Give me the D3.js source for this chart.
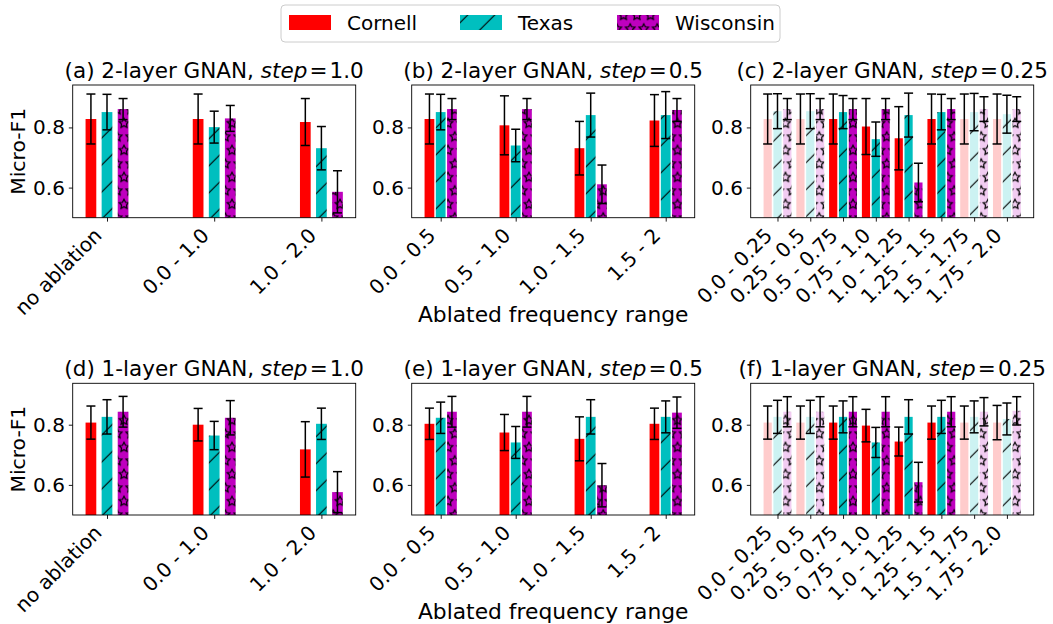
<!DOCTYPE html>
<html>
<head>
<meta charset="utf-8">
<script src="https://cdn.jsdelivr.net/npm/d3@7"></script>
<style>
  body { margin: 0; background: #fff; }
  svg text { font-family: "DejaVu Sans", sans-serif; }
</style>
</head>
<body>
<svg id="chart"></svg>
<script>
// datasets shown in every panel
const datasets = ["Cornell", "Texas", "Wisconsin"]

// ablated frequency ranges for each step size
const catsStep1 = ["no ablation", "0.0 - 1.0", "1.0 - 2.0"]
const catsStep05 = ["0.0 - 0.5", "0.5 - 1.0", "1.0 - 1.5", "1.5 - 2"]
const catsStep025 = ["0.0 - 0.25", "0.25 - 0.5", "0.5 - 0.75", "0.75 - 1.0",
                     "1.0 - 1.25", "1.25 - 1.5", "1.5 - 1.75", "1.75 - 2.0"]

// ranges drawn pale in the step = 0.25 panels
const fadedStep025 = [0, 1, 6, 7]

const yTicks = [0.6, 0.8]

// mean Micro-F1, rows: Cornell, Texas, Wisconsin
const meanA = [[0.828, 0.828, 0.818], [0.851, 0.801, 0.731], [0.861, 0.830, 0.586]]
const errA  = [[0.083, 0.083, 0.078], [0.059, 0.053, 0.072], [0.035, 0.043, 0.070]]

const meanB = [[0.828, 0.807, 0.731, 0.823], [0.851, 0.740, 0.841, 0.841], [0.861, 0.861, 0.611, 0.858]]
const errB  = [[0.083, 0.098, 0.089, 0.086], [0.059, 0.054, 0.073, 0.078], [0.035, 0.035, 0.064, 0.038]]

const meanC = [[0.828, 0.828, 0.828, 0.803, 0.764, 0.828, 0.828, 0.828],
               [0.854, 0.854, 0.851, 0.761, 0.841, 0.851, 0.851, 0.844],
               [0.861, 0.861, 0.861, 0.861, 0.617, 0.861, 0.861, 0.861]]
const errC  = [[0.083, 0.083, 0.083, 0.093, 0.105, 0.083, 0.083, 0.083],
               [0.058, 0.058, 0.055, 0.057, 0.073, 0.059, 0.062, 0.063],
               [0.035, 0.035, 0.035, 0.035, 0.064, 0.035, 0.041, 0.041]]

const meanD = [[0.807, 0.800, 0.718], [0.826, 0.764, 0.803], [0.843, 0.823, 0.576]]
const errD  = [[0.055, 0.054, 0.092], [0.057, 0.047, 0.052], [0.051, 0.057, 0.068]]

const meanE = [[0.803, 0.774, 0.753, 0.803], [0.823, 0.741, 0.826, 0.826], [0.843, 0.843, 0.599, 0.840]]
const errE  = [[0.052, 0.060, 0.073, 0.052], [0.052, 0.053, 0.057, 0.053], [0.051, 0.051, 0.072, 0.052]]

const meanF = [[0.807, 0.807, 0.807, 0.797, 0.744, 0.807, 0.807, 0.807],
               [0.826, 0.826, 0.826, 0.741, 0.826, 0.826, 0.826, 0.819],
               [0.843, 0.843, 0.843, 0.843, 0.609, 0.843, 0.843, 0.846]]
const errF  = [[0.055, 0.055, 0.055, 0.054, 0.048, 0.055, 0.055, 0.057],
               [0.055, 0.055, 0.053, 0.050, 0.057, 0.055, 0.053, 0.053],
               [0.050, 0.050, 0.050, 0.050, 0.066, 0.050, 0.047, 0.047]]

//layout
const width = 1053
const height = 624
const colLeft = [72.7, 411.7, 750.7]
const axW = 283
const rowTop = [85, 383.3]
const axH = [132.7, 131.7]
const rowYMax = [0.941, 0.9375]
const tickSize = 20
const titleSize = 21.5
const labelSize = 21.8

const faceColors = ["#ff0000", "#00bfbf", "#bf00bf"]
const fadedColors = ["#ffcccc", "#ccf2f2", "#f2ccf2"]

const panels = [
  { title: "(a) 2-layer GNAN, ", step: "1.0", cats: catsStep1, means: meanA, errs: errA, row: 0, col: 0, barW: 0.1, shift: 0.15, faded: [] },
  { title: "(b) 2-layer GNAN, ", step: "0.5", cats: catsStep05, means: meanB, errs: errB, row: 0, col: 1, barW: 0.13, shift: 0.15, faded: [] },
  { title: "(c) 2-layer GNAN, ", step: "0.25", cats: catsStep025, means: meanC, errs: errC, row: 0, col: 2, barW: 0.25, shift: 0.3, faded: fadedStep025 },
  { title: "(d) 1-layer GNAN, ", step: "1.0", cats: catsStep1, means: meanD, errs: errD, row: 1, col: 0, barW: 0.1, shift: 0.15, faded: [] },
  { title: "(e) 1-layer GNAN, ", step: "0.5", cats: catsStep05, means: meanE, errs: errE, row: 1, col: 1, barW: 0.13, shift: 0.15, faded: [] },
  { title: "(f) 1-layer GNAN, ", step: "0.25", cats: catsStep025, means: meanF, errs: errF, row: 1, col: 2, barW: 0.25, shift: 0.3, faded: fadedStep025 }
]

const svg = d3.select("#chart")
              .attr("width", width)
              .attr("height", height)
              .style("display", "block")
const defs = svg.append("defs")

//hatch patterns, tiled in page space like matplotlib does
const S = 13.5
const starPath = d3.range(10).map(k => {
  const r = k % 2 === 0 ? 5 : 2.5
  const a = Math.PI / 2 + k * Math.PI / 5
  return [r * Math.cos(a), -r * Math.sin(a)]
})
const starD = "M" + starPath.map(p => p.join(",")).join("L") + "Z"

const addSlash = (id, face) => {
  const p = defs.append("pattern").attr("id", id)
                .attr("patternUnits", "userSpaceOnUse")
                .attr("width", 2 * S).attr("height", 2 * S)
                .attr("x", 0).attr("y", 23.7)
  p.append("rect").attr("width", 2 * S).attr("height", 2 * S).attr("fill", face)
  p.append("path")
   .attr("d", `M0,${2 * S}L${2 * S},0M-2,2L2,-2M${2 * S - 2},${2 * S + 2}L${2 * S + 2},${2 * S - 2}`)
   .attr("stroke", "#000").attr("stroke-width", 1.1)
}

const addStars = (id, face) => {
  const p = defs.append("pattern").attr("id", id)
                .attr("patternUnits", "userSpaceOnUse")
                .attr("width", S).attr("height", 2 * S)
                .attr("x", 2.5).attr("y", 15.3)
  p.append("rect").attr("width", S).attr("height", 2 * S).attr("fill", face)
  const centres = [[0, 0], [S, 0], [0, 2 * S], [S, 2 * S], [S / 2, S]]
  centres.forEach(c => {
    p.append("path").attr("d", starD)
     .attr("transform", `translate(${c[0]},${c[1]})`)
     .attr("fill", "none").attr("stroke", "#000").attr("stroke-width", 1.2)
  })
}

addSlash("texas", faceColors[1])
addSlash("texas-faded", fadedColors[1])
addStars("wis", faceColors[2])
addStars("wis-faded", fadedColors[2])

const fillFor = (s, faded) => {
  if (s === 0) return faded ? fadedColors[0] : faceColors[0]
  if (s === 1) return faded ? "url(#texas-faded)" : "url(#texas)"
  return faded ? "url(#wis-faded)" : "url(#wis)"
}

panels.forEach(p => {
  const left = colLeft[p.col]
  const top = rowTop[p.row]
  const h = axH[p.row]
  const n = p.cats.length

  //x limits with matplotlib style 5% margins
  const lo = -p.shift - p.barW / 2
  const hi = n - 1 + p.shift + p.barW / 2
  const m = (hi - lo) * 0.05
  const xScale = d3.scaleLinear().domain([lo - m, hi + m]).range([left, left + axW])
  const yScale = d3.scaleLinear().domain([0.5, rowYMax[p.row]]).range([top + h, top])

  const bars = []
  datasets.forEach((d, s) => {
    p.cats.forEach((c, i) => {
      bars.push({ s, i, v: p.means[s][i], e: p.errs[s][i], faded: p.faded.includes(i) })
    })
  })

  const g = svg.append("g")

  g.selectAll(".bar")
   .data(bars)
   .join("rect")
   .attr("x", b => xScale(b.i + (b.s - 1) * p.shift - p.barW / 2))
   .attr("width", xScale(p.barW) - xScale(0))
   .attr("y", b => yScale(b.v))
   .attr("height", b => yScale(0.5) - yScale(b.v))
   .attr("fill", b => fillFor(b.s, b.faded))

  //error bars with caps
  const eb = g.selectAll(".err")
              .data(bars)
              .join("g")
              .attr("stroke", "#000")
              .attr("stroke-width", 1.5)
  eb.append("line")
    .attr("x1", b => xScale(b.i + (b.s - 1) * p.shift))
    .attr("x2", b => xScale(b.i + (b.s - 1) * p.shift))
    .attr("y1", b => yScale(b.v - b.e))
    .attr("y2", b => yScale(b.v + b.e))
  ;[-1, 1].forEach(sign => {
    eb.append("line")
      .attr("x1", b => xScale(b.i + (b.s - 1) * p.shift) - 4.5)
      .attr("x2", b => xScale(b.i + (b.s - 1) * p.shift) + 4.5)
      .attr("y1", b => yScale(b.v + sign * b.e))
      .attr("y2", b => yScale(b.v + sign * b.e))
  })

  //axes
  const xAxis = d3.axisBottom(xScale)
                  .tickValues(d3.range(n))
                  .tickFormat(i => p.cats[i])
                  .tickSize(3.9)
  const yAxis = d3.axisLeft(yScale)
                  .tickValues(yTicks)
                  .tickFormat(d3.format(".1f"))
                  .tickSize(3.9)
                  .tickPadding(3.9)

  const gx = svg.append("g").attr("transform", `translate(0, ${top + h})`).call(xAxis)
  gx.select(".domain").remove()
  gx.selectAll(".tick line").attr("stroke-width", 0.9)
  gx.selectAll(".tick text")
    .attr("x", 0).attr("y", 0).attr("dy", 0)
    .attr("text-anchor", "end")
    .attr("transform", "translate(-4.5, 19) rotate(-45)")
    .attr("font-size", tickSize)
    .attr("font-family", "DejaVu Sans")
    .attr("fill", "#000")

  const gy = svg.append("g").attr("transform", `translate(${left}, 0)`).call(yAxis)
  gy.select(".domain").remove()
  gy.selectAll(".tick line").attr("stroke-width", 0.9)
  gy.selectAll(".tick text")
    .attr("font-size", tickSize)
    .attr("font-family", "DejaVu Sans")
    .attr("fill", "#000")

  svg.append("rect")
     .attr("x", left).attr("y", top)
     .attr("width", axW).attr("height", h)
     .attr("fill", "none").attr("stroke", "#000").attr("stroke-width", 0.9)

  //title with italic step
  const t = svg.append("text")
               .attr("x", left + axW / 2)
               .attr("y", top - 7)
               .attr("text-anchor", "middle")
               .attr("font-size", titleSize)
  t.append("tspan").text(p.title)
  t.append("tspan").attr("font-style", "italic").text("step")
  t.append("tspan").text("\u200a=\u200a" + p.step)

  if (p.col === 0) {
    svg.append("text")
       .attr("transform", `translate(25, ${top + h / 2}) rotate(-90)`)
       .attr("text-anchor", "middle")
       .attr("font-size", 20.3)
       .text("Micro-F1")
  }
  if (p.col === 1) {
    svg.append("text")
       .attr("x", left + axW / 2)
       .attr("y", top + h + 104)
       .attr("text-anchor", "middle")
       .attr("font-size", labelSize)
       .text("Ablated frequency range")
  }
})

//legend
const legend = svg.append("g")
legend.append("rect")
      .attr("x", 281).attr("y", 5)
      .attr("width", 499).attr("height", 37)
      .attr("rx", 4)
      .attr("fill", "#fff").attr("stroke", "#cccccc").attr("stroke-width", 1)
const legX = [289, 460, 617]
datasets.forEach((d, s) => {
  legend.append("rect")
        .attr("x", legX[s]).attr("y", 15)
        .attr("width", 42).attr("height", 15)
        .attr("fill", fillFor(s, false))
  legend.append("text")
        .attr("x", legX[s] + 58).attr("y", 29.5)
        .attr("font-size", tickSize)
        .text(d)
})
</script>
</body>
</html>
